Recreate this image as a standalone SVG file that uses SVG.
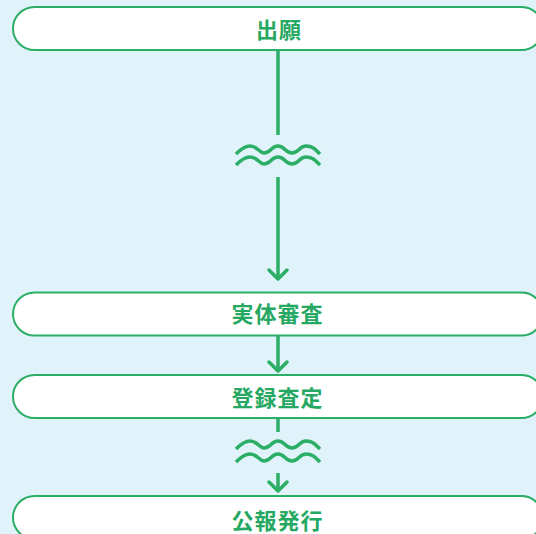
<svg xmlns="http://www.w3.org/2000/svg" width="536" height="534" viewBox="0 0 536 534">
<defs>
<style>
.box{fill:#ffffff;stroke:#2bae66;stroke-width:2}
.lbl{font-family:"Noto Sans CJK JP","Noto Sans CJK SC",sans-serif;font-weight:700;font-size:22px;fill:#25a862;text-anchor:middle;letter-spacing:1px}
.ln{fill:none;stroke:#2bae66;stroke-width:3.5}
.ah{fill:none;stroke:#2bae66;stroke-width:3.5;stroke-linecap:round;stroke-linejoin:round}
</style>
</defs>
<rect x="0" y="0" width="536" height="534" fill="#e0f2fa"/>
<g id="connectors">
<line class="ln" x1="278" y1="50" x2="278" y2="135"/>
<path class="ln" d="M236,154 C241,149 245,146 250,146 C257,146 260,153 264,153 C271,153 271,146 278,146 C285,146 285,153 292,153 C299,153 299,146 306,146 C313,146 316,150 320,154"/>
<path class="ln" d="M236,165 C241,160 245,157 250,157 C257,157 260,164 264,164 C271,164 271,157 278,157 C285,157 285,164 292,164 C299,164 299,157 306,157 C313,157 316,161 320,165"/>
<line class="ln" x1="278" y1="177" x2="278" y2="279"/>
<polyline class="ah" points="269,270 278,279 287,270"/>
<line class="ln" x1="278" y1="336" x2="278" y2="371"/>
<polyline class="ah" points="269,362 278,371 287,362"/>
<line class="ln" x1="278" y1="418" x2="278" y2="432"/>
<path class="ln" d="M236,449 C241,444 245,441 250,441 C257,441 260,448 264,448 C271,448 271,441 278,441 C285,441 285,448 292,448 C299,448 299,441 306,441 C313,441 316,445 320,449"/>
<path class="ln" d="M236,462 C241,457 245,454 250,454 C257,454 260,461 264,461 C271,461 271,454 278,454 C285,454 285,461 292,461 C299,461 299,454 306,454 C313,454 316,458 320,462"/>
<line class="ln" x1="278" y1="473" x2="278" y2="491"/>
<polyline class="ah" points="269,482 278,491 287,482"/>
</g>
<g id="node1">
<rect class="box" x="13" y="7" width="530" height="43" rx="21.5"/>
<text class="lbl" x="279" y="37.5">出願</text>
</g>
<g id="node2">
<rect class="box" x="13" y="292.5" width="530" height="43" rx="21.5"/>
<text class="lbl" x="277.5" y="321.5">実体審査</text>
</g>
<g id="node3">
<rect class="box" x="13" y="375" width="530" height="43" rx="21.5"/>
<text class="lbl" x="277.5" y="406">登録査定</text>
</g>
<g id="node4">
<rect class="box" x="13" y="496" width="530" height="43" rx="21.5"/>
<text class="lbl" x="277.5" y="529">公報発行</text>
</g>
</svg>
